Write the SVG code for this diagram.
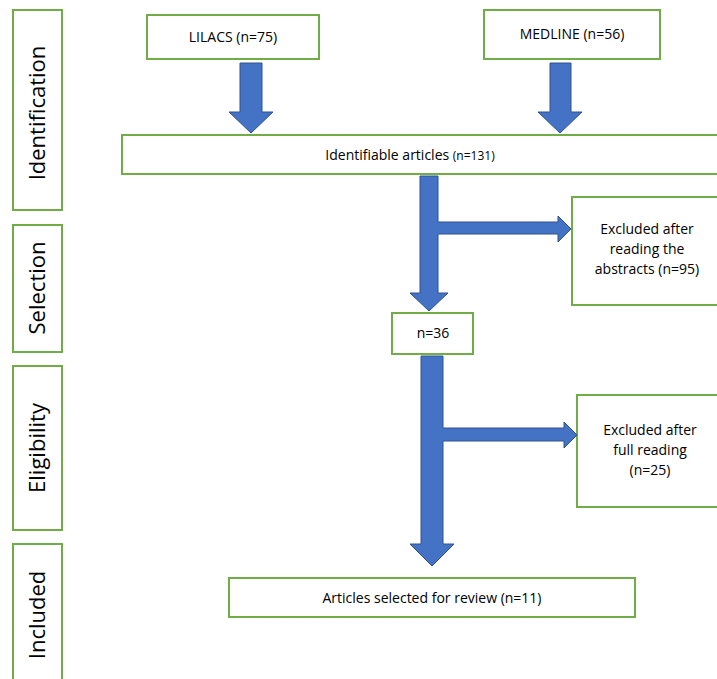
<svg xmlns="http://www.w3.org/2000/svg" width="717" height="679" viewBox="0 0 717 679">
<style>
.box{fill:#fff;stroke:#70AD47;stroke-width:2}
.arr{fill:#4472C4;stroke:#2F528F;stroke-width:1}
.t{font-family:"Open Sans","Liberation Sans",sans-serif;font-size:14px;fill:#000;text-anchor:middle}
.ph{font-family:"Open Sans","Liberation Sans",sans-serif;font-size:22px;fill:#000;text-anchor:middle}
</style>
<rect width="717" height="679" fill="#fff"/>
<g id="phase-identification"><rect class="box" x="13" y="10" width="49" height="200"/><text class="ph" transform="translate(45,113) rotate(-90)">Identification</text></g>
<g id="phase-selection"><rect class="box" x="13" y="225" width="49" height="127"/><text class="ph" transform="translate(45,288) rotate(-90)">Selection</text></g>
<g id="phase-eligibility"><rect class="box" x="13" y="366" width="49" height="164"/><text class="ph" transform="translate(45,448) rotate(-90)">Eligibility</text></g>
<g id="phase-included"><rect class="box" x="13" y="544" width="49" height="150"/><text class="ph" transform="translate(45,615) rotate(-90)">Included</text></g>
<g id="lilacs"><rect class="box" x="147" y="15" width="172" height="44"/><text class="t" x="233" y="42">LILACS (n=75)</text></g>
<g id="medline"><rect class="box" x="484" y="10" width="176" height="49"/><text class="t" x="572" y="39">MEDLINE (n=56)</text></g>
<g id="identifiable"><rect class="box" x="122" y="135" width="620" height="39"/><text class="t" x="410" y="160">Identifiable articles  <tspan font-size="12px">(n=131)</tspan></text></g>
<g id="excluded-abstracts"><rect class="box" x="572" y="197" width="160" height="108"/><text class="t" x="647" y="234">Excluded after</text><text class="t" x="647" y="254">reading the</text><text class="t" x="647" y="274">abstracts (n=95)</text></g>
<g id="n36"><rect class="box" x="392" y="313" width="81" height="41"/><text class="t" x="433" y="338">n=36</text></g>
<g id="excluded-full"><rect class="box" x="577" y="395" width="160" height="112"/><text class="t" x="650" y="435">Excluded after</text><text class="t" x="650" y="455">full reading</text><text class="t" x="650" y="475">(n=25)</text></g>
<g id="selected"><rect class="box" x="229" y="578" width="406" height="39"/><text class="t" x="432" y="603">Articles selected for review (n=11)</text></g>
<g id="connectors">
<path class="arr" d="M240,63 H262 V112 H273 L251,133 L229,112 H240 Z"/>
<path class="arr" d="M550,63 H571 V112 H582 L560,133 L538,112 H550 Z"/>
<path class="arr" d="M420,176 H438 V222 H558 V216 L571,229 L558,242 V234 H438 V293 H448 L429,311 L410,293 H420 Z"/>
<path class="arr" d="M421,356 H443 V428 H564 V422 L577,435 L564,448 V441 H443 V544 H454 L432,566 L410,544 H421 Z"/>
</g>
</svg>
